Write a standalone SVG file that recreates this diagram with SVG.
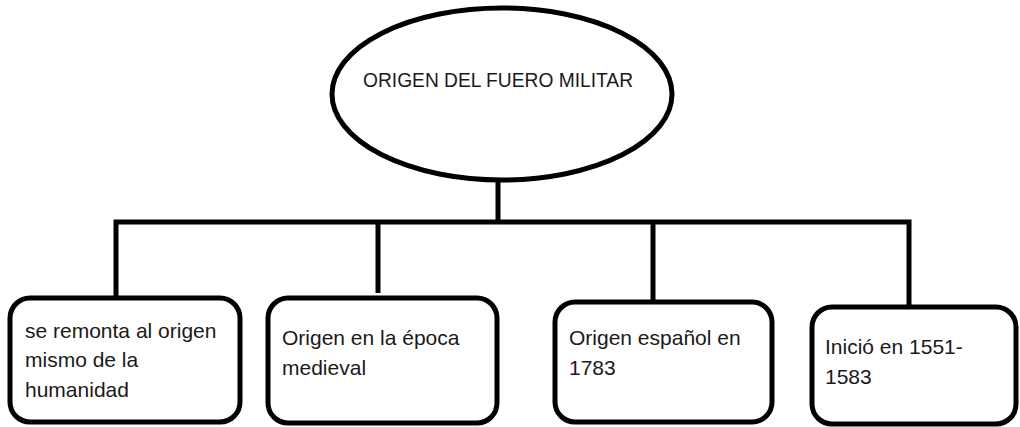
<svg xmlns="http://www.w3.org/2000/svg" width="1020" height="427" viewBox="0 0 1020 427">
<style>
  .shape { fill: #ffffff; stroke: #000000; stroke-width: 5; }
  .conn { fill: none; stroke: #000000; stroke-width: 5; stroke-linecap: butt; stroke-linejoin: miter; }
  .lbl { font-family: "Liberation Sans", Arial, sans-serif; font-size: 21px; fill: #1a1a1a; }
</style>
<rect width="1020" height="427" fill="#ffffff"/>
<g id="connectors">
  <path class="conn" d="M498 180 V222"/>
  <path class="conn" d="M116 298 V222 H909 V312"/>
  <path class="conn" d="M378 222 V293"/>
  <path class="conn" d="M653 222 V302"/>
</g>
<g id="node-root">
  <ellipse class="shape" cx="502" cy="94" rx="170" ry="86"/>
  <text class="lbl" x="363" y="87" font-size="20" textLength="270" lengthAdjust="spacingAndGlyphs">ORIGEN DEL FUERO MILITAR</text>
</g>
<g id="node-1">
  <rect class="shape" x="10" y="298" width="230" height="124" rx="20"/>
  <text class="lbl" x="25" y="338">se remonta al origen</text>
  <text class="lbl" x="25" y="367">mismo de la</text>
  <text class="lbl" x="25" y="397">humanidad</text>
</g>
<g id="node-2">
  <rect class="shape" x="268" y="298" width="229" height="125" rx="20"/>
  <text class="lbl" x="282" y="345">Origen en la época</text>
  <text class="lbl" x="282" y="375">medieval</text>
</g>
<g id="node-3">
  <rect class="shape" x="555" y="302" width="217" height="120" rx="20"/>
  <text class="lbl" x="569" y="345">Origen español en</text>
  <text class="lbl" x="569" y="375">1783</text>
</g>
<g id="node-4">
  <rect class="shape" x="812" y="307" width="204" height="117" rx="20"/>
  <text class="lbl" x="825" y="354">Inició en 1551-</text>
  <text class="lbl" x="825" y="384">1583</text>
</g>
</svg>
